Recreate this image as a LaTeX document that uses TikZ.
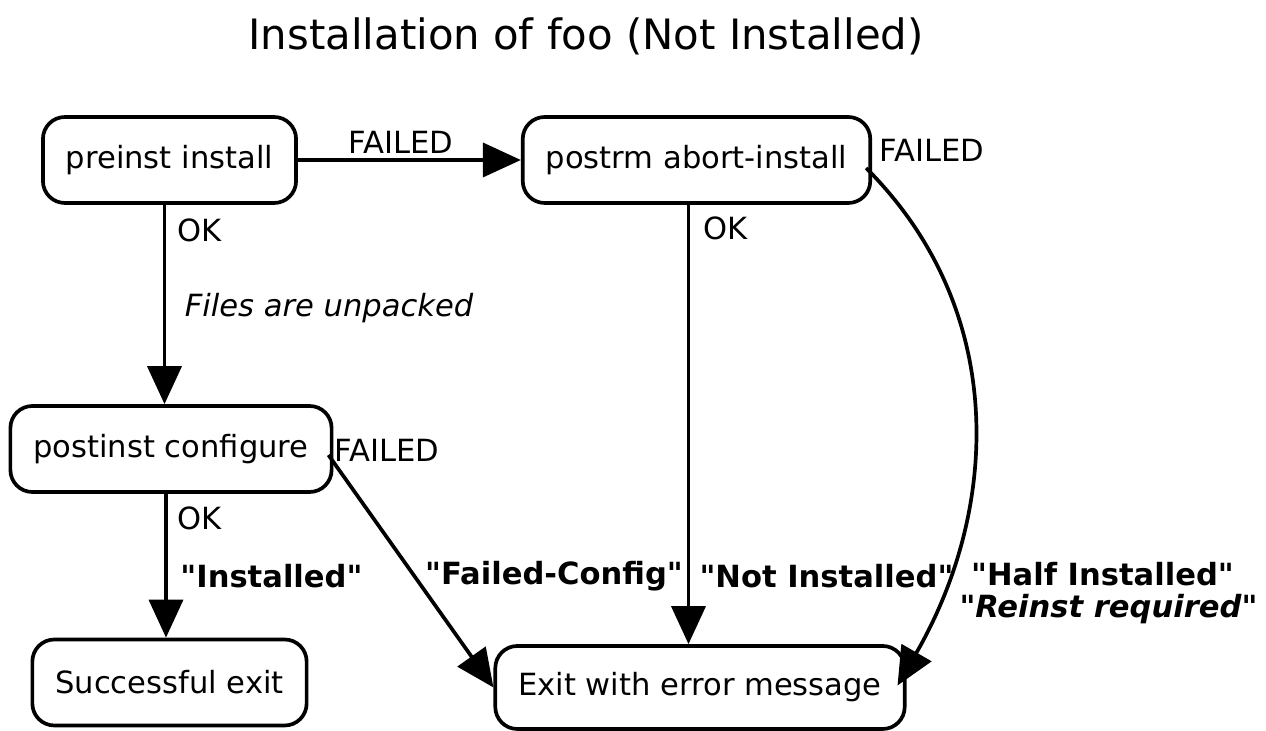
\documentclass[tikz,border=0pt]{standalone}
\usepackage{fontspec}
\setmainfont{DejaVu Sans}[Ligatures=TeXOff]
\usepackage{tikz}
\usetikzlibrary{arrows.meta}
\usetikzlibrary{positioning}
\usetikzlibrary{calc}
\tikzset{every picture/.style={line width=1.05pt}}

\begin{document}
\begin{tikzpicture}[
  state/.style={draw, rounded corners=2.2mm, minimum height=0.86cm, inner xsep=0.23cm, font=\fontsize{8.7}{10}\selectfont},
  trans/.style={-{Triangle[length=0.38cm,width=0.34cm]}},
  lbl/.style={font=\fontsize{8.7}{10}\selectfont, inner sep=0pt},
  res/.style={font=\fontsize{8.7}{10}\selectfont\bfseries, inner sep=0pt}]
\useasboundingbox (0,0) rectangle (12.66,-7.31);
\node (title) at (5.86,-0.36) {\fontsize{11.9}{14}\selectfont Installation of foo (Not Installed)};

\node (pre) at (1.695,-1.60) [state] {preinst install};
\node (abort) at (6.965,-1.60) [state] {postrm abort-install};
\node (conf) at (1.71,-4.49) [state] {postinst configure};
\node (done) at (1.695,-6.825) [state] {Successful exit};
\node (err) at (7.0,-6.875) [state, minimum height=0.83cm] {Exit with error message};

\draw[trans] (pre.east) -- (abort.west);
\node (f1) at (4.01,-1.42) [lbl] {FAILED};
\draw[trans] ([xshift=-0.05cm]pre.south) -- ([xshift=-0.05cm]pre.south |- conf.north);
\node (ok1) at (1.76,-2.30) [lbl, anchor=west] {OK};
\node (unp) at (1.83,-3.08) [lbl, anchor=west] {\itshape Files are unpacked};

\draw[trans] ([xshift=-0.08cm]abort.south) -- ([xshift=-0.08cm]abort.south |- err.north);
\node (ok2) at (7.02,-2.28) [lbl, anchor=west] {OK};
\draw[trans] ($(abort.east)+(-0.06,-0.08)$) to[out=-45, in=60] ($(err.east)+(-0.09,0.02)$);
\node (f2) at (8.78,-1.50) [lbl, anchor=west] {FAILED};

\draw[trans] ([xshift=-0.05cm]conf.south) -- ([xshift=-0.05cm]conf.south |- done.north);
\node (ok3) at (1.76,-5.18) [lbl, anchor=west] {OK};
\draw[trans] ($(conf.east)+(-0.05,-0.06)$) -- (err.west);
\node (f3) at (3.33,-4.50) [lbl, anchor=west] {FAILED};

\node (r1) at (2.715,-5.76) [res] {"Installed"};
\node (r2) at (5.54,-5.76) [res] {"Failed-Config"};
\node (r3) at (8.265,-5.76) [res] {"Not Installed"};
\node (r4) at (11.025,-5.74) [res] {"Half Installed"};
\node (r5) at (11.085,-6.09) [res] {\itshape "Reinst required"};
\end{tikzpicture}
\end{document}
